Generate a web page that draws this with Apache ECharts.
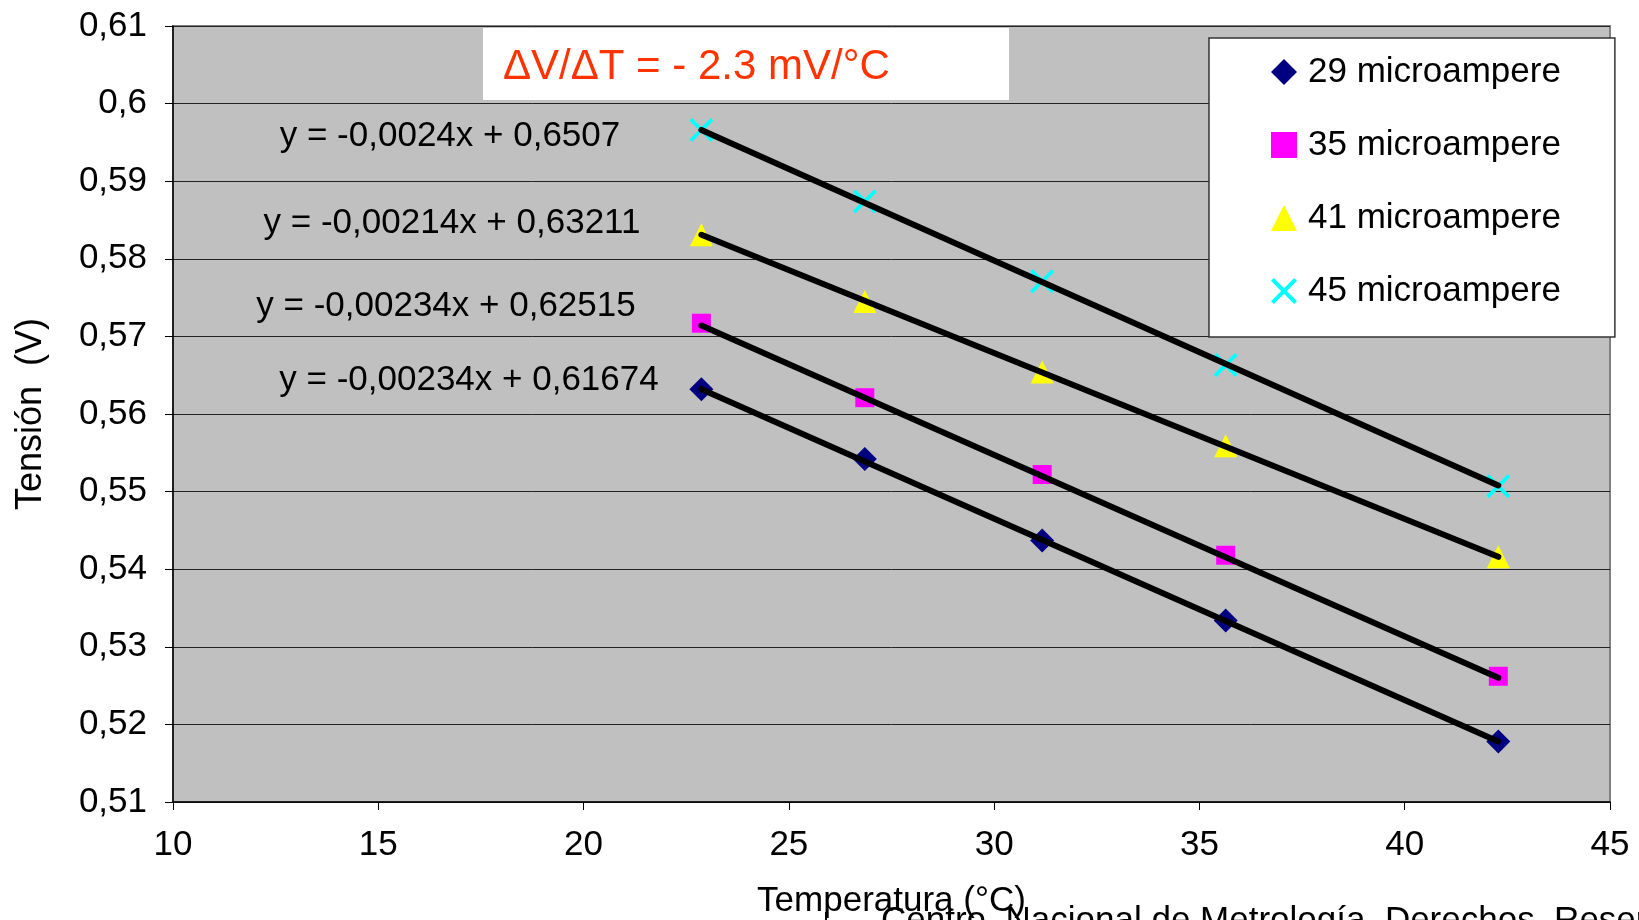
<!DOCTYPE html>
<html>
<head>
<meta charset="utf-8">
<script src="https://cdn.jsdelivr.net/npm/echarts@6/dist/echarts.min.js"></script>
<style>
html,body{margin:0;padding:0;background:#fff;}
#chart{width:1639px;height:920px;}
</style>
</head>
<body>
<div id="chart"></div>
<script>
// Temperatures (°C) of the five measurements
var temperatures = [22.87, 26.85, 31.17, 35.64, 42.28];
// Series names
var seriesNames = ['29 microampere', '35 microampere', '41 microampere', '45 microampere'];
// Voltage readings (V)
var v29 = [0.5632, 0.5542, 0.5437, 0.5334, 0.5178];
var v35 = [0.5717, 0.5621, 0.5522, 0.5418, 0.5262];
var v41 = [0.5831, 0.5745, 0.5654, 0.5559, 0.5416];
var v45 = [0.5966, 0.5874, 0.5771, 0.5663, 0.5507];
// Trend line end values (at first and last temperature)
var trend29 = [0.5632, 0.5178];
var trend35 = [0.5714, 0.5260];
var trend41 = [0.5831, 0.5416];
var trend45 = [0.5966, 0.5508];
// Trend line equations
var equations = ['y = -0,0024x + 0,6507', 'y = -0,00214x + 0,63211', 'y = -0,00234x + 0,62515', 'y = -0,00234x + 0,61674'];
var slopeNote = '\u0394V/\u0394T = - 2.3 mV/\u00b0C';
var footer = 'Centro  Nacional de Metrolog\u00eda  Derechos  Reservados';
// Axis ranges
var xMin = 10, xMax = 45, xStep = 5;
var yMin = 0.51, yMax = 0.61, yStep = 0.01;

var FONT = '"Liberation Sans", Arial, sans-serif';
var colors = ['#000080', '#FF00FF', '#FFFF00', '#00FFFF'];
var symbols = ['diamond', 'rect', 'triangle',
  'path://M0,2.2 L2.2,0 L10,7.8 L17.8,0 L20,2.2 L12.2,10 L20,17.8 L17.8,20 L10,12.2 L2.2,20 L0,17.8 L7.8,10 Z'];
var sizes = [24, 19, 23, 24];
var values = [v29, v35, v41, v45];
var trends = [trend29, trend35, trend41, trend45];

function pairs(arr) { return temperatures.map(function (t, i) { return [t, arr[i]]; }); }

var series = [];
values.forEach(function (arr, k) {
  series.push({
    name: seriesNames[k], type: 'scatter', data: pairs(arr),
    symbol: symbols[k], symbolSize: sizes[k], symbolKeepAspect: true,
    itemStyle: { color: colors[k], opacity: 1 }, z: 3
  });
});
trends.forEach(function (tr, k) {
  series.push({
    name: 'trend' + k, type: 'line', silent: true,
    data: [[temperatures[0], tr[0]], [temperatures[temperatures.length - 1], tr[1]]],
    symbol: 'none', lineStyle: { color: '#000', width: 6, cap: 'round' }, z: 4
  });
});

var eqPos = [[450, 136], [452, 223], [446, 306], [469, 380]];
var graphics = [
  { type: 'rect', shape: { x: 483, y: 28, width: 526, height: 72 }, style: { fill: '#fff' }, z: 5 },
  { type: 'text', x: 503, y: 67, style: { text: slopeNote, font: '42px ' + FONT, fill: '#FF3300', textVerticalAlign: 'middle' }, z: 6 },
  { type: 'line', shape: { x1: 826, y1: 912, x2: 826, y2: 920 }, style: { stroke: '#000', lineWidth: 2 } },
  { type: 'text', x: 881, y: 904, style: { text: footer, font: '35px ' + FONT, fill: '#000', textVerticalAlign: 'top' } }
];
equations.forEach(function (e, i) {
  graphics.push({ type: 'text', x: eqPos[i][0], y: eqPos[i][1], style: { text: e, font: '35px ' + FONT, fill: '#000', textAlign: 'center', textVerticalAlign: 'middle' }, z: 6 });
});

var chart = echarts.init(document.getElementById('chart'), null, { renderer: 'canvas' });
chart.setOption({
  animation: false,
  backgroundColor: '#fff',
  textStyle: { fontFamily: FONT },
  grid: { left: 173, right: 29, top: 26, bottom: 118, show: true, backgroundColor: '#C0C0C0', borderColor: '#808080', borderWidth: 2,
    containLabel: false, outerBoundsMode: 'none' },
  legend: {
    data: seriesNames, orient: 'vertical', left: 1209, top: 38,
    padding: [14, 54, 26, 62], itemGap: 33, itemWidth: 26, itemHeight: 26,
    backgroundColor: '#fff', borderColor: '#333', borderWidth: 1.5,
    textStyle: { fontSize: 35, fontFamily: FONT, color: '#000', lineHeight: 40, padding: [0, 0, 0, 6] },
    selectedMode: false, z: 10
  },
  xAxis: {
    type: 'value', min: xMin, max: xMax, interval: xStep,
    name: 'Temperatura (\u00b0C)', nameLocation: 'middle', nameGap: 82,
    nameTextStyle: { fontSize: 35, fontFamily: FONT, color: '#000' },
    axisLine: { lineStyle: { color: '#000', width: 1.5 } },
    axisTick: { show: true, length: 8, lineStyle: { color: '#000' } },
    axisLabel: { fontSize: 35, fontFamily: FONT, color: '#000', margin: 26 },
    splitLine: { show: false }
  },
  yAxis: {
    type: 'value', min: yMin, max: yMax, interval: yStep,
    name: 'Tensi\u00f3n  (V)', nameLocation: 'middle', nameGap: 124, nameRotate: 90,
    nameTextStyle: { fontSize: 36, fontFamily: FONT, color: '#000' },
    axisLine: { lineStyle: { color: '#000', width: 1.5 } },
    axisTick: { show: true, length: 8, lineStyle: { color: '#000' } },
    axisLabel: { fontSize: 35, fontFamily: FONT, color: '#000', margin: 26,
      formatter: function (v) { return String(+v.toFixed(2)).replace('.', ','); } },
    splitLine: { show: true, lineStyle: { color: '#222', width: 1 } }
  },
  graphic: graphics,
  series: series
});
</script>
</body>
</html>
